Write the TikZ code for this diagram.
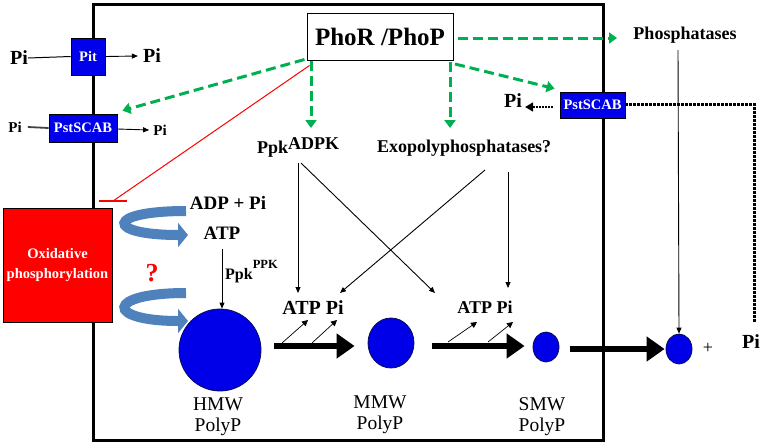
\documentclass[tikz,border=0pt]{standalone}
\usepackage{fontspec}
\setmainfont{Liberation Serif}
\usetikzlibrary{arrows.meta,shapes.geometric}
\newcommand{\myfs}[1]{\fontsize{#1}{#1}\selectfont}
\definecolor{pblue}{RGB}{0,0,235}
\definecolor{cblue}{RGB}{0,0,232}
\definecolor{cedge}{RGB}{10,10,90}
\definecolor{pgreen}{RGB}{0,176,80}
\definecolor{steel}{RGB}{79,129,189}
\definecolor{pred}{RGB}{255,0,0}
\begin{document}
\begin{tikzpicture}[x=1pt,y=-1pt,
  lbl/.style={font=\bfseries\myfs{#1}, inner sep=0pt},
  bluebox/.style={draw=black, line width=0.8pt, fill=pblue, text=white, font=\bfseries\myfs{14.5}, inner sep=0pt},
  garr/.style={draw=pgreen, line width=3pt, dash pattern=on 10pt off 5pt, -{Triangle[length=8pt,width=11pt]}},
  tarr/.style={line width=0.9pt, -{Triangle[length=6pt,width=5pt]}},
  smallarr/.style={line width=0.7pt, -{Triangle[length=6pt,width=6pt]}},
  thickarr/.style={line width=6pt, -{Triangle[length=18pt,width=24pt]}},
  ribbon/.style={draw=steel, line width=10pt, -{Triangle[length=10pt,width=24pt]}},
  dotarr/.style={line width=1.5pt, dash pattern=on 1.5pt off 1.5pt, -{Triangle[length=8pt,width=9pt]}},
  bigdot/.style={line width=3pt, dash pattern=on 2.5pt off 1.5pt},
  circ/.style={circle, fill=cblue, draw=cedge, line width=0.8pt, inner sep=0pt},
  ell/.style={ellipse, fill=cblue, draw=cedge, line width=0.8pt, inner sep=0pt},
  poly/.style={font=\fontsize{19.5}{21}\selectfont, align=center, inner sep=0pt}]
\useasboundingbox (0,0) rectangle (762,445);
% cell boundary
\draw[line width=3pt] (93,4) rectangle (603,440);

% nodes
\node[draw, fill=white, line width=1pt, minimum width=146pt, minimum height=47pt, lbl=25] (phor) at (380,36.5) {PhoR /PhoP};
\node[bluebox, minimum width=34pt, minimum height=37pt] (pit) at (88,56.5) {Pit};
\node[lbl=20] (pia) at (19,58) {Pi};
\node[lbl=20] (pib) at (152,56) {Pi};
\node[bluebox, minimum width=68pt, minimum height=28pt] (pstl) at (83,128) {PstSCAB};
\node[lbl=15] (pic) at (15,127) {Pi};
\node[lbl=15] (pid) at (160,130) {Pi};
\node[bluebox, minimum width=65pt, minimum height=26pt] (pstr) at (592.5,105) {PstSCAB};
\node[lbl=20] (pie) at (513,101) {Pi};
\node[lbl=18, anchor=base] (phos) at (685,39) {Phosphatases};
\node[lbl=18, anchor=base west] (ppk) at (257,153) {Ppk\raisebox{3.5pt}{ADPK}};
\node[lbl=18, anchor=base west] (exo) at (377,152) {Exopolyphosphatases?};
\node[draw=black, line width=0.8pt, fill=pred, text=white, font=\bfseries\fontsize{14.5}{20}\selectfont, align=center, minimum width=109pt, minimum height=114pt, inner sep=0pt] (ox) at (57.5,265) {Oxidative\\phosphorylation};
\node[lbl=19] (adp) at (228,203) {ADP + Pi};
\node[lbl=19] (atp) at (222,233) {ATP};
\node[lbl=26, text=pred] (qm) at (152,273) {?};
\node[lbl=16, anchor=base west] (ppkb) at (225,279) {Ppk\raisebox{11pt}{\myfs{12.5}PPK}};
\node[circ, minimum size=82pt] (hmw) at (220,350) {};
\node[ell, minimum width=46pt, minimum height=50pt] (mmw) at (391,343) {};
\node[ell, minimum width=26pt, minimum height=30pt] (smw) at (546,347) {};
\node[ell, minimum width=26pt, minimum height=30pt] (fin) at (679,349) {};
\node[poly] (thmw) at (218,417) {HMW\\PolyP};
\node[poly] (tmmw) at (380,415) {MMW\\PolyP};
\node[poly] (tsmw) at (542,417) {SMW\\PolyP};
\node[lbl=20] (ap1) at (313,308) {ATP Pi};
\node[lbl=18] (ap2) at (485,307) {ATP Pi};
\node[font=\myfs{18}, inner sep=0pt] (plus) at (708,348) {+};
\node[lbl=20] (pif) at (751,342) {Pi};

% coordinates for free ends
\coordinate (g1) at (311,61);
\coordinate (g1t) at (311,128);
\coordinate (g2) at (450,62);
\coordinate (g2t) at (450,128);
\coordinate (gpt) at (617,38);
\coordinate (rb) at (113,201);
\coordinate (k1) at (298,163);
\coordinate (k1e) at (298,293);
\coordinate (k2) at (301,163);
\coordinate (k2e) at (435,293);
\coordinate (e1) at (485,170);
\coordinate (e1e) at (340,293);
\coordinate (e2) at (508,172);
\coordinate (e2e) at (508,288);
\coordinate (ph1) at (678,50);
\coordinate (dc) at (754,104);
\coordinate (dce) at (754,323);
\coordinate (s1) at (282,343); \coordinate (s1e) at (308,320);
\coordinate (s2) at (312,343); \coordinate (s2e) at (337,320);
\coordinate (s3) at (448,342); \coordinate (s3e) at (477,322);
\coordinate (s4) at (488,342); \coordinate (s4e) at (513,322);

% transporters
\draw[line width=1pt] (pia.east) -- (pit.west);
\draw[tarr] (pit.east) -- ([xshift=-5pt]pib.west);
\draw[line width=1.8pt, black!75] ([xshift=6pt]pic.east) -- (pstl.west);
\draw[tarr] ([yshift=-1pt]pstl.east) -- ([xshift=-4pt]pid.west);

% green regulation arrows
\draw[garr] ([xshift=-2pt,yshift=1pt]phor.south west) -- ([xshift=5pt,yshift=3pt]pstl.north east);
\draw[garr] (g1) -- (g1t);
\draw[garr] (g2) -- (g2t);
\draw[garr] ([xshift=5pt,yshift=-2pt]g2) -- ([xshift=-5pt,yshift=3pt]pstr.north west);
\draw[garr] ([xshift=4pt,yshift=-1.5pt]phor.east) -- (gpt);

% red inhibition
\draw[pred, line width=1pt] ([xshift=3pt,yshift=-5pt]phor.south west) -- (rb);
\draw[pred, line width=1.3pt] ([xshift=-14pt]rb) -- ([xshift=14pt]rb);

% ribbons
\draw[ribbon] (186,211) .. controls (105,211) and (105,235) .. (188,235);
\draw[ribbon] (186,293) .. controls (105,293) and (105,321) .. (188,321);

% thin arrows
\draw[tarr, shorten <=10pt] (atp.south) -- (atp.south |- hmw.north);
\draw[tarr] (k1) -- (k1e);
\draw[tarr] (k2) -- (k2e);
\draw[tarr] (e1) -- (e1e);
\draw[tarr] (e2) -- (e2e);
\draw[tarr] (ph1) -- (fin.north);

% thick arrows
\draw[thickarr] ([xshift=13pt,yshift=4pt]hmw.east) -- ([xshift=-13pt,yshift=-3pt]mmw.west);
\draw[thickarr] ([xshift=18pt,yshift=-3pt]mmw.east) -- ([xshift=-8pt,yshift=1pt]smw.west);
\draw[thickarr] ([xshift=11pt,yshift=-2pt]smw.east) -- ([xshift=-1pt]fin.west);

% small arrows
\draw[smallarr] (s1) -- (s1e);
\draw[smallarr] (s2) -- (s2e);
\draw[smallarr] (s3) -- (s3e);
\draw[smallarr] (s4) -- (s4e);

% dotted Pi uptake
\draw[dotarr] ([xshift=-7pt,yshift=-2pt]pstr.west) -- ([xshift=3pt,yshift=-6pt]pie.east);
\draw[bigdot] ([yshift=1pt]pstr.east) -- (dc) -- (dce);
\end{tikzpicture}
\end{document}
